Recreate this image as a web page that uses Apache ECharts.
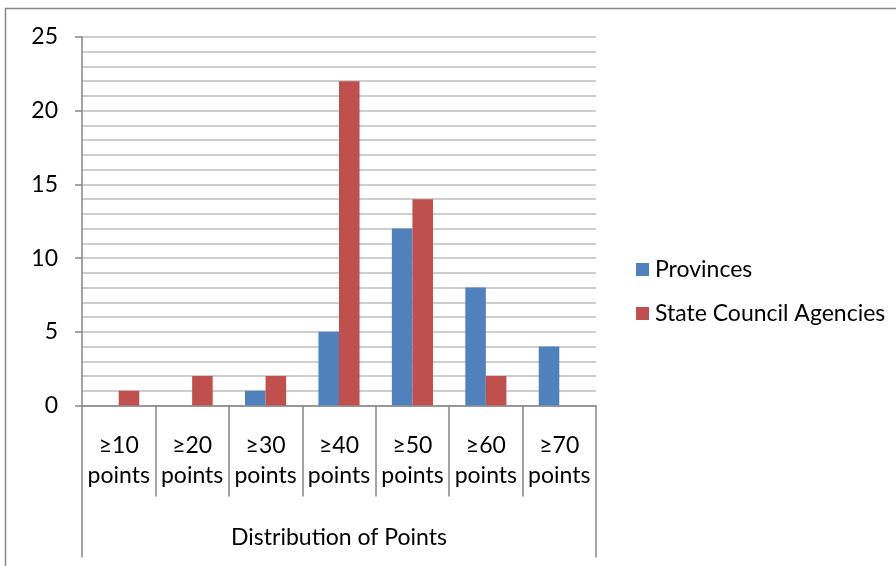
<!DOCTYPE html>
<html>
<head>
<meta charset="utf-8">
<script src="https://cdn.jsdelivr.net/npm/echarts@6/dist/echarts.min.js"></script>
<style>
  html, body { margin: 0; padding: 0; background: #fff; }
  #chart { width: 896px; height: 566px; }
</style>
</head>
<body>
<div id="chart"></div>
<script>
// Point-range categories and the two series counts
const categories = ['≥10\npoints', '≥20\npoints', '≥30\npoints', '≥40\npoints', '≥50\npoints', '≥60\npoints', '≥70\npoints'];
const groupLabel = ['Distribution of Points'];
const provinces = [0, 0, 1, 5, 12, 8, 4];
const stateCouncil = [1, 2, 2, 22, 14, 2, 0];
const seriesNames = ['Provinces', 'State Council Agencies'];

const FONT = 'Lato, "Liberation Sans", sans-serif';
const FS = 23;
const AXIS_GREY = '#868686';
const GRID_GREY = '#bfbfbf';

const chart = echarts.init(document.getElementById('chart'), null, { renderer: 'canvas' });

chart.setOption({
  animation: false,
  backgroundColor: '#ffffff',
  textStyle: { fontFamily: FONT, color: '#000' },
  graphic: [{
    type: 'rect',
    shape: { x: 5.5, y: 8.5, width: 1000, height: 1000 },
    style: { fill: 'none', stroke: AXIS_GREY, lineWidth: 1.5 },
    silent: true,
    z: -1
  }],
  grid: { left: 82, top: 37, right: 300, bottom: 160.5, containLabel: false },
  legend: {
    orient: 'vertical',
    left: 636,
    top: 258,
    padding: 0,
    itemWidth: 13,
    itemHeight: 13,
    itemGap: 21,
    icon: 'rect',
    textStyle: { fontFamily: FONT, fontSize: FS, color: '#000', lineHeight: 20, padding: [0, 0, 0, 1] },
    data: seriesNames
  },
  xAxis: [{
    type: 'category',
    data: categories,
    position: 'bottom',
    axisLine: { show: true, lineStyle: { color: AXIS_GREY, width: 1.5 } },
    axisTick: { show: true, length: 91, lineStyle: { color: AXIS_GREY, width: 1.5 } },
    axisLabel: { fontFamily: FONT, fontSize: FS, color: '#000', lineHeight: 30, margin: 25, interval: 0 }
  }, {
    type: 'category',
    data: groupLabel,
    position: 'bottom',
    axisLine: { show: false },
    axisTick: { show: true, length: 152, lineStyle: { color: AXIS_GREY, width: 1.5 } },
    axisLabel: { fontFamily: FONT, fontSize: FS, color: '#000', lineHeight: 24, margin: 120 }
  }],
  yAxis: {
    type: 'value',
    min: 0,
    max: 25,
    interval: 5,
    axisLine: { show: true, lineStyle: { color: AXIS_GREY, width: 1.5 } },
    axisTick: { show: true, length: 7, lineStyle: { color: AXIS_GREY, width: 1.5 } },
    axisLabel: { fontFamily: FONT, fontSize: FS, color: '#000', margin: 24 },
    splitLine: { show: true, lineStyle: { color: GRID_GREY, width: 1.5 } },
    minorTick: { show: false, splitNumber: 5 },
    minorSplitLine: { show: true, lineStyle: { color: GRID_GREY, width: 1.5 } }
  },
  series: [{
    name: seriesNames[0],
    type: 'bar',
    data: provinces,
    itemStyle: { color: '#4f81bd' },
    barGap: '0%',
    barCategoryGap: '44%'
  }, {
    name: seriesNames[1],
    type: 'bar',
    data: stateCouncil,
    itemStyle: { color: '#c0504d' },
    barGap: '0%',
    barCategoryGap: '44%'
  }]
});
</script>
</body>
</html>
